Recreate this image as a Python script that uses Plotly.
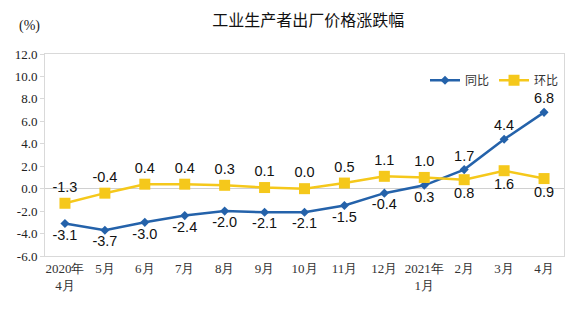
import plotly.graph_objects as go

categories = ["2020年<br>4月", "5月", "6月", "7月", "8月", "9月", "10月", "11月", "12月",
              "2021年<br>1月", "2月", "3月", "4月"]
yoy = [-3.1, -3.7, -3.0, -2.4, -2.0, -2.1, -2.1, -1.5, -0.4, 0.3, 1.7, 4.4, 6.8]
mom = [-1.3, -0.4, 0.4, 0.4, 0.3, 0.1, 0.0, 0.5, 1.1, 1.0, 0.8, 1.6, 0.9]
yoy_pos = ["bottom center"] * 10 + ["top center"] * 3
mom_pos = ["top center"] * 10 + ["bottom center"] * 3
y_ticks = [-6, -4, -2, 0, 2, 4, 6, 8, 10, 12]

blue = "#2462AA"
yellow = "#F5C81B"
lab_font = dict(family="Liberation Sans, Arial", size=14.5, color="#111")

fig = go.Figure()
fig.add_trace(go.Scatter(
    x=categories, y=yoy, name="同比", mode="lines+markers+text",
    line=dict(color=blue, width=2.5), marker=dict(symbol="diamond", size=7, color=blue),
    text=[f"{v:.1f}" for v in yoy], textposition=yoy_pos, textfont=lab_font,
    cliponaxis=False))
fig.add_trace(go.Scatter(
    x=categories, y=mom, name="环比", mode="lines+markers+text",
    line=dict(color=yellow, width=2.5), marker=dict(symbol="square", size=11, color=yellow),
    text=[f"{v:.1f}" for v in mom], textposition=mom_pos, textfont=lab_font,
    cliponaxis=False))

fig.update_layout(
    width=576, height=319,
    margin=dict(l=45, r=12, t=54, b=63),
    paper_bgcolor="white", plot_bgcolor="white",
    title=dict(text="工业生产者出厂价格涨跌幅", x=0.535, xanchor="center", y=0.935, yanchor="middle",
               font=dict(family="Noto Sans CJK SC", size=16, color="#111")),
    showlegend=True,
    legend=dict(orientation="h", x=1.0, xanchor="right", y=0.87, yanchor="middle",
                font=dict(family="Noto Sans CJK SC", size=12, color="#333"),
                bgcolor="rgba(0,0,0,0)", itemwidth=30, tracegroupgap=0),
    font=dict(family="Liberation Serif, Times New Roman", size=12, color="#222"),
    xaxis=dict(type="category", range=[-0.5, 12.5], showgrid=False, zeroline=False,
               showline=True, linecolor="#d9d9d9", mirror=True, ticks="",
               tickfont=dict(family="Liberation Serif", size=13, color="#333")),
    yaxis=dict(range=[-6, 12], tickvals=y_ticks, ticktext=[f"{v:.1f}" for v in y_ticks],
               showgrid=False, zeroline=True, zerolinecolor="#d0d0d0", zerolinewidth=1,
               showline=True, linecolor="#d9d9d9", mirror=True,
               ticks="outside", ticklen=4, tickcolor="#d9d9d9",
               tickfont=dict(family="Liberation Serif", size=13, color="#222")),
    annotations=[dict(text="(%)", xref="paper", yref="paper", x=-0.005, y=1.0, yshift=28,
                      xanchor="right", yanchor="middle", showarrow=False,
                      font=dict(family="Liberation Serif", size=14, color="#222"))],
)

fig.write_html("out.html")
